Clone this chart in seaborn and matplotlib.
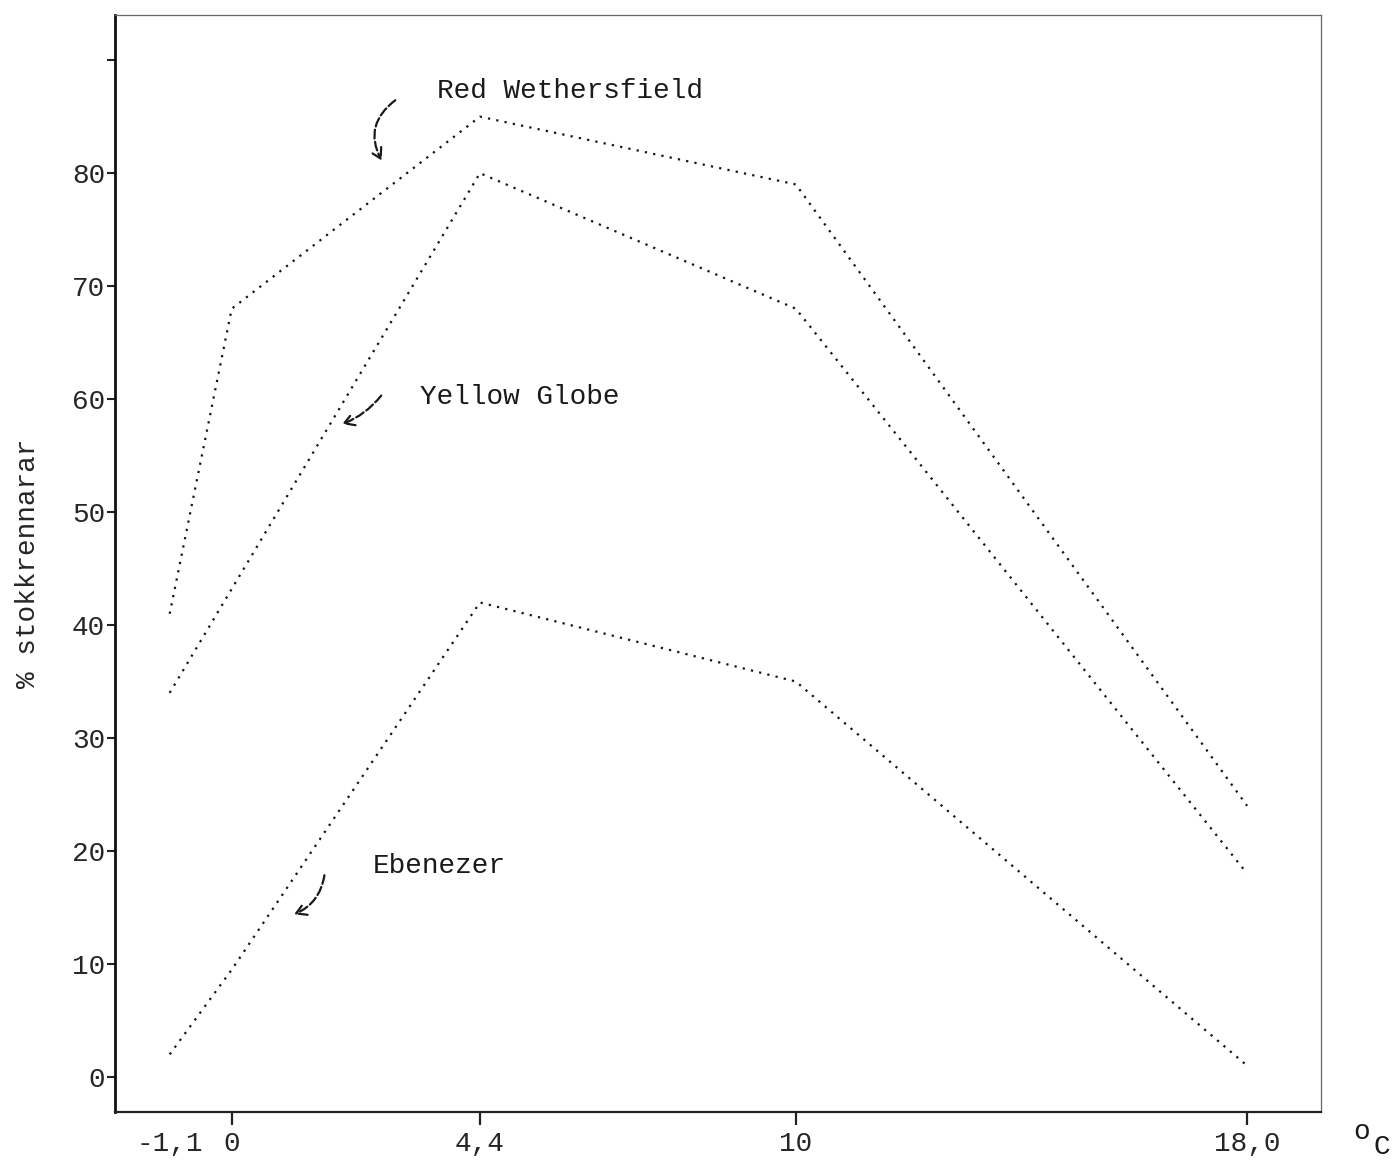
import numpy as np
import pandas as pd
import matplotlib
matplotlib.use("Agg")
import matplotlib.pyplot as plt
import seaborn as sns

# ---- data ----
red_x = [-1.1, 0.0, 4.4, 10.0, 18.0]
red_y = [41, 68, 85, 79, 24]
yellow_x = [-1.1, 4.4, 10.0, 18.0]
yellow_y = [34, 80, 68, 18]
eben_x = [-1.1, 0.0, 4.4, 10.0, 18.0]
eben_y = [2, 9.5, 42, 35, 1]

x_ticks = [-1.1, 0.0, 4.4, 10.0, 18.0]
x_tick_labels = ["-1,1", "0", "4,4", "10", "18,0"]
y_ticks = [0, 10, 20, 30, 40, 50, 60, 70, 80, 90]
y_tick_labels = ["0", "10", "20", "30", "40", "50", "60", "70", "80", ""]

series_names = ["Red Wethersfield", "Yellow Globe", "Ebenezer"]

df = pd.concat([
    pd.DataFrame({"variety": series_names[0], "temp": red_x, "pct": red_y}),
    pd.DataFrame({"variety": series_names[1], "temp": yellow_x, "pct": yellow_y}),
    pd.DataFrame({"variety": series_names[2], "temp": eben_x, "pct": eben_y}),
], ignore_index=True)

sns.set_theme(style="ticks")
plt.rcParams["font.family"] = ["Liberation Mono", "DejaVu Sans"]

fig = plt.figure(figsize=(13.92, 11.6), dpi=100)
ax = fig.add_axes([0.0826, 0.0414, 0.8664, 0.9457])

for name in series_names:
    sub = df[df["variety"] == name]
    sns.lineplot(data=sub, x="temp", y="pct", ax=ax, color="#141414",
                 linewidth=1.6, estimator=None, sort=False,
                 linestyle=(0, (1, 2.8)), legend=False)

ax.set_xlim(-2.07, 19.31)
ax.set_ylim(-3.1, 94.0)

ax.set_xticks(x_ticks)
ax.set_xticklabels(x_tick_labels, fontsize=20)
ax.set_yticks(y_ticks)
ax.set_yticklabels(y_tick_labels, fontsize=20)
ax.tick_params(axis="x", bottom=True, direction="out", length=9, width=1.6,
               color="#222", pad=5)
ax.tick_params(axis="y", left=True, direction="out", length=6, width=1.5,
               color="#222", pad=1)
ax.xaxis.get_major_ticks()[0].tick1line.set_visible(False)

ax.set_xlabel("")
ax.set_ylabel("% stokkrennarar", fontsize=20, labelpad=22)

for side in ["top", "right"]:
    ax.spines[side].set_visible(True)
    ax.spines[side].set_linewidth(0.9)
    ax.spines[side].set_color("#666666")
ax.spines["left"].set_linewidth(2.0)
ax.spines["left"].set_color("#111111")
ax.spines["bottom"].set_linewidth(1.6)
ax.spines["bottom"].set_color("#222222")

# labels with curved arrows
ax.text(3.63, 87.3, series_names[0], fontsize=20, ha="left", va="center", color="#1a1a1a")
ax.text(3.33, 60.2, "Yellow Globe", fontsize=20, ha="left", va="center", color="#1a1a1a")
ax.text(2.50, 18.7, series_names[2], fontsize=20, ha="left", va="center", color="#1a1a1a")

arrow_kw = dict(arrowstyle="->,head_length=0.6,head_width=0.35", color="#1a1a1a",
                lw=1.6, linestyle=(0, (4, 1.5)))
ax.annotate("", xy=(2.68, 80.9), xytext=(2.94, 86.6),
            arrowprops=dict(connectionstyle="arc3,rad=0.45", **arrow_kw))
ax.annotate("", xy=(1.91, 57.7), xytext=(2.68, 60.5),
            arrowprops=dict(connectionstyle="arc3,rad=-0.15", **arrow_kw))
ax.annotate("", xy=(1.06, 14.3), xytext=(1.65, 18.1),
            arrowprops=dict(connectionstyle="arc3,rad=-0.3", **arrow_kw))

# degree-C unit at the end of the x axis
fig.text(0.978, 0.024, "o", fontsize=20, ha="center", va="center", color="#1a1a1a")
fig.text(0.993, 0.011, "C", fontsize=20, ha="center", va="center", color="#1a1a1a")

fig.savefig("out.png", dpi=100)
